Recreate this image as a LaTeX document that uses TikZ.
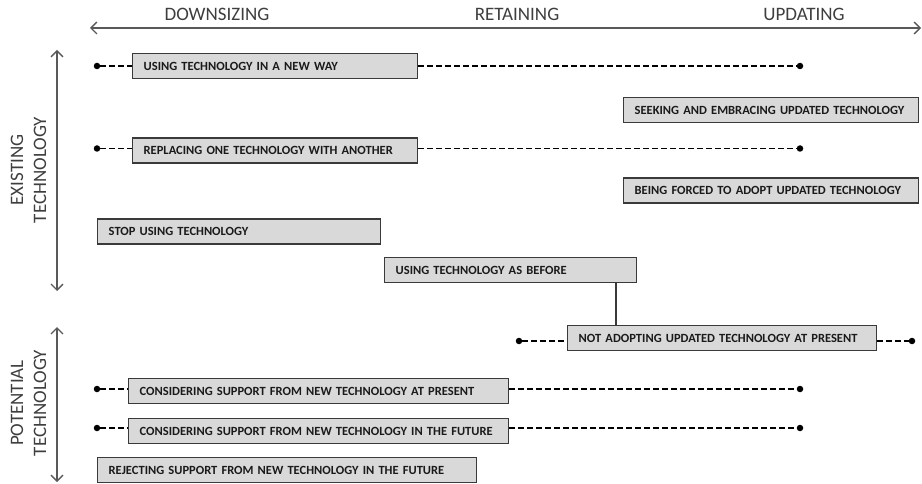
\documentclass[tikz,border=0pt]{standalone}
\usepackage{fontspec}
\setmainfont{Carlito}
\usetikzlibrary{arrows.meta}
\definecolor{boxfill}{HTML}{D9D9D9}
\definecolor{boxdraw}{HTML}{3A3A3A}
\definecolor{axiscol}{HTML}{595959}
\definecolor{txtcol}{HTML}{1A1A1A}
\tikzset{
  stagebox/.style={draw=boxdraw, fill=boxfill, line width=1.4pt, rectangle, anchor=west,
    minimum height=25pt, inner xsep=11pt, inner ysep=0pt, align=left,
    font=\bfseries\fontsize{12.5}{13.5}\selectfont, text=txtcol},
  enddot/.style={circle, fill=black, inner sep=0pt, minimum size=6.5pt},
  dashline/.style={draw=black, line width=1.3pt, dash pattern=on 6pt off 3pt},
  axisline/.style={draw=axiscol, line width=1.3pt, {Straight Barb[length=6pt,width=12pt]}-{Straight Barb[length=6pt,width=12pt]}},
  axislabel/.style={font=\fontsize{19}{23}\selectfont, text=axiscol!70!black, inner sep=0pt},
  stem/.style={draw=boxdraw, line width=1.3pt}
}
\begin{document}
\begin{tikzpicture}[x=1pt,y=-1pt]
\useasboundingbox (0,0) rectangle (922,484);

% axes
\coordinate (hl) at (90,28);
\coordinate (hr) at (921,28);
\draw[axisline] (hl) -- (hr);
\node[axislabel] (lab1) at (217,14) {DOWNSIZING};
\node[axislabel] (lab2) at (517,14) {RETAINING};
\node[axislabel] (lab3) at (804,14) {UPDATING};

\coordinate (v1t) at (57,50);
\coordinate (v1b) at (57,291);
\draw[axisline] (v1t) -- (v1b);
\coordinate (v2t) at (57,327);
\coordinate (v2b) at (57,482);
\draw[axisline] (v2t) -- (v2b);
\node[axislabel, rotate=90, align=center] (ex) at (28.5,170) {EXISTING\\TECHNOLOGY};
\node[axislabel, rotate=90, align=center] (po) at (28.5,403) {POTENTIAL\\TECHNOLOGY};

% boxes
\node[stagebox, text width=263pt] (b1) at (132,66) {USING TECHNOLOGY IN A NEW WAY};
\node[stagebox, text width=273pt] (b2) at (623,110) {SEEKING AND EMBRACING UPDATED TECHNOLOGY};
\node[stagebox, text width=263pt] (b3) at (132,150.5) {REPLACING ONE TECHNOLOGY WITH ANOTHER};
\node[stagebox, text width=273pt] (b4) at (623,190.5) {BEING FORCED TO ADOPT UPDATED TECHNOLOGY};
\node[stagebox, text width=261pt] (b5) at (97,231.5) {STOP USING TECHNOLOGY};
\node[stagebox, text width=230pt] (b6) at (384,270) {USING TECHNOLOGY AS BEFORE};
\node[stagebox, text width=287pt] (b7) at (567,338) {NOT ADOPTING UPDATED TECHNOLOGY AT PRESENT};
\node[stagebox, text width=358pt] (b8) at (128,391) {CONSIDERING SUPPORT FROM NEW TECHNOLOGY AT PRESENT};
\node[stagebox, text width=358pt] (b9) at (128,431) {CONSIDERING SUPPORT FROM NEW TECHNOLOGY IN THE FUTURE};
\node[stagebox, text width=357pt] (b10) at (97,470) {REJECTING SUPPORT FROM NEW TECHNOLOGY IN THE FUTURE};

% dots
\node[enddot] (d1l) at (97,66) {};
\node[enddot] (d1r) at (800,66) {};
\node[enddot] (d3l) at (97,148.5) {};
\node[enddot] (d3r) at (800,148.5) {};
\node[enddot] (d7l) at (519,341) {};
\node[enddot] (d7r) at (912,341) {};
\node[enddot] (d8l) at (97,389) {};
\node[enddot] (d8r) at (800,389) {};
\node[enddot] (d9l) at (97,428) {};
\node[enddot] (d9r) at (800,428) {};

% dashed connectors
\draw[dashline] (d1l) -- (d1l -| b1.west);
\draw[dashline] (d1r -| b1.east) -- (d1r);
\draw[dashline] (d3l) -- (d3l -| b3.west);
\draw[dashline] (d3r -| b3.east) -- (d3r);
\draw[dashline] (d7l) -- (d7l -| b7.west);
\draw[dashline] (d7r -| b7.east) -- (d7r);
\draw[dashline] (d8l) -- (d8l -| b8.west);
\draw[dashline] (d8r -| b8.east) -- (d8r);
\draw[dashline] (d9l) -- (d9l -| b9.west);
\draw[dashline] (d9r -| b9.east) -- (d9r);

% stem between b6 and b7
\coordinate (st) at (616,0);
\draw[stem] (b6.south -| st) -- (b7.north -| st);
\end{tikzpicture}
\end{document}
